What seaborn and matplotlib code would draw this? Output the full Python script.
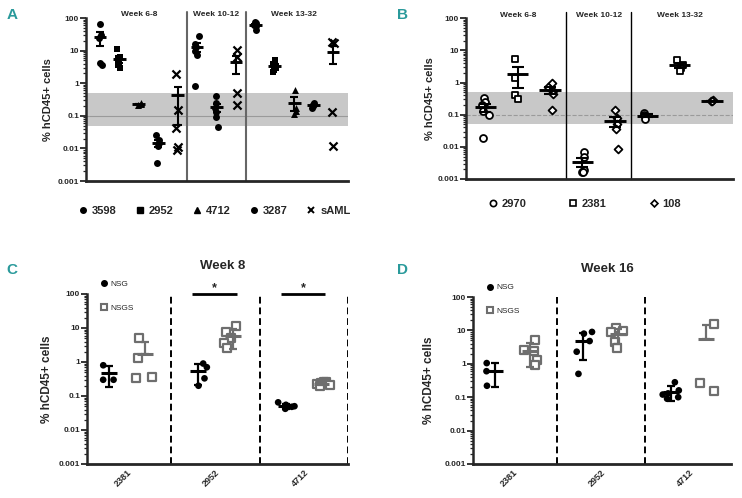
import warnings
import numpy as np
import pandas as pd
import matplotlib.pyplot as plt
import matplotlib.ticker as mticker
import matplotlib.transforms as mtransforms
from matplotlib.lines import Line2D
import seaborn as sns

warnings.filterwarnings('ignore')
np.random.seed(3)

# Panel A: engraftment per sample and time window (mean +/- SEM)
a_weeks = ['Week 6-8'] * 5 + ['Week 10-12'] * 3 + ['Week 13-32'] * 5
a_samples = ['3598', '2952', '4712', '3287', 'sAML',
             '3598', '3287', 'sAML',
             '3598', '2952', '4712', '3287', 'sAML']
a_values = [
    [64, 30, 25, 4.1, 3.6],
    [11.5, 6.5, 5, 4, 3.5, 3],
    [0.22, 0.24, 0.23],
    [0.025, 0.018, 0.015, 0.012, 0.0035],
    [1.9, 0.15, 0.042, 0.011, 0.009],
    [29, 16, 13, 10, 7.5, 0.8],
    [0.4, 0.25, 0.18, 0.13, 0.09, 0.046],
    [10.5, 6.5, 0.5, 0.22],
    [75, 68, 62, 58, 42],
    [5, 4, 3.5, 3, 2.5, 2.2],
    [0.6, 0.17, 0.14, 0.11],
    [0.24, 0.22, 0.21, 0.2, 0.18],
    [19, 17, 0.13, 0.012],
]
a_legend = ['3598', '2952', '4712', '3287', 'sAML']
a_markers = {'3598': 'o', '2952': 's', '4712': '^', '3287': 'o', 'sAML': 'x'}

# Panel B
b_weeks = ['Week 6-8'] * 3 + ['Week 10-12'] * 2 + ['Week 13-32'] * 3
b_samples = ['2970', '2381', '108', '2970', '108', '2970', '2381', '108']
b_values = [
    [0.32, 0.25, 0.2, 0.13, 0.1, 0.019],
    [5.3, 1.4, 0.4, 0.3],
    [0.95, 0.75, 0.55, 0.45, 0.14],
    [0.0068, 0.0048, 0.0019, 0.0017, 0.0016],
    [0.14, 0.08, 0.05, 0.035, 0.0085],
    [0.11, 0.095, 0.075],
    [5, 3.5, 2.8, 2.3],
    [0.28, 0.27, 0.26],
]
b_legend = ['2970', '2381', '108']
b_markers = {'2970': 'o', '2381': 's', '108': 'D'}

# Panels C / D: NSG vs NSGS (mean +/- SD)
strains = ['NSG', 'NSGS']
cd_samples = ['2381', '2952', '4712']
c_nsg = [[0.8, 0.3, 0.3], [0.9, 0.7, 0.33, 0.2],
         [0.065, 0.055, 0.05, 0.048, 0.045, 0.042]]
c_nsgs = [[5, 1.3, 0.33, 0.37], [11.5, 7.5, 5, 3.5, 2.5],
          [0.26, 0.25, 0.24, 0.23, 0.22, 0.21, 0.2]]
d_nsg = [[1.05, 0.6, 0.22], [9, 8, 4.8, 2.3, 0.5],
         [0.28, 0.16, 0.13, 0.12, 0.1, 0.09]]
d_nsgs = [[5.2, 2.6, 2.4, 1.3, 0.9], [12, 9.5, 9, 4.5, 3], [16, 0.27, 0.15]]
c_signif = ['2952', '4712']
d_signif = []

y_ticks = [0.001, 0.01, 0.1, 1, 10, 100]
y_tick_labels = ['0.001', '0.01', '0.1', '1', '10', '100']
band = (0.05, 0.5)
teal = '#2a9a9b'
gray = '#6e6e6e'

sns.set_style('ticks')
plt.rcParams['font.family'] = ['Liberation Sans', 'DejaVu Sans']


def long_df(weeks, samples, values):
    rows = []
    for w, s, vals in zip(weeks, samples, values):
        for v in vals:
            rows.append({'week': w, 'sample': s, 'group': w + ' / ' + s, 'value': v})
    return pd.DataFrame(rows)


def mean_err(ax, x, m, e, half_w, cap, color, lw):
    # Prism style: wide mean line, capped error bar (lower part dropped if <= 0)
    lower = e if m - e > 0 else 0
    ax.errorbar(x, m, yerr=[[lower], [e]], fmt='none', ecolor=color,
                elinewidth=lw, capsize=cap, capthick=lw, zorder=4)
    ax.hlines(m, x - half_w, x + half_w, color=color, lw=lw + 0.6, zorder=4)


def log_axis(ax, ylabel_x, label_size=8):
    ax.set_yscale('log')
    ax.set_ylim(0.001, 100)
    ax.yaxis.set_major_locator(mticker.FixedLocator(y_ticks))
    ax.yaxis.set_major_formatter(mticker.FixedFormatter(y_tick_labels))
    ax.yaxis.set_minor_locator(mticker.LogLocator(base=10, subs=np.arange(2, 10)))
    ax.yaxis.set_minor_formatter(mticker.NullFormatter())
    ax.tick_params(axis='y', which='major', length=4, width=1.3, labelsize=6, pad=1)
    ax.tick_params(axis='y', which='minor', length=2.5, width=0.9)
    for lab in ax.get_yticklabels():
        lab.set_fontweight('bold')
    ax.spines[['top', 'right']].set_visible(False)
    ax.spines['left'].set_linewidth(1.8)
    ax.spines['bottom'].set_linewidth(2)
    ax.set_ylabel('% hCD45+ cells', fontsize=label_size, fontweight='bold')
    ax.yaxis.set_label_coords(ylabel_x, 0.5)


def week_panel(ax, weeks, samples, values, markers, filled, size,
               half_w, cap, div_color, div_lw, ref_ls):
    df = long_df(weeks, samples, values)
    order = [w + ' / ' + s for w, s in zip(weeks, samples)]
    ax.axhspan(*band, color='#c8c8c8', lw=0, zorder=0)
    ax.axhline(0.1, color='#9a9a9a', lw=0.8, ls=ref_ls, zorder=1)
    for s in dict.fromkeys(samples):
        sub = df[df['sample'] == s]
        kw = dict(data=sub, x='group', y='value', order=order, ax=ax,
                  marker=markers[s], jitter=0.12, zorder=3)
        if filled:
            if markers[s] == 'x':
                kw.update(color='black', size=size + 0.8, linewidth=1.6, edgecolor='black')
            else:
                kw.update(color='black', size=size, linewidth=0)
        else:
            msize = size - 1 if markers[s] == 'D' else size
            kw.update(color='white', size=msize, linewidth=1.3, edgecolor='black')
        sns.stripplot(**kw)
    stats = df.groupby('group', sort=False)['value'].agg(['mean', 'sem']).reindex(order)
    for i, g in enumerate(order):
        mean_err(ax, i, stats.loc[g, 'mean'], stats.loc[g, 'sem'], half_w, cap, 'black', 1.5)

    week_order = list(dict.fromkeys(weeks))
    counts = np.array([weeks.count(w) for w in week_order])
    edges = np.cumsum(counts)
    for e in edges[:-1]:
        ax.axvline(e - 0.5, ymin=0, ymax=1.04, color=div_color, lw=div_lw, clip_on=False)
    trans = mtransforms.blended_transform_factory(ax.transData, ax.transAxes)
    for w, st, c in zip(week_order, edges - counts, counts):
        ax.text(st + (c - 1) / 2, 1.02, w, transform=trans, ha='center', va='center',
                fontsize=6, fontweight='bold')
    ax.set_xlabel('')
    ax.set_xticks([])
    return len(order)


def strain_panel(ax, title, nsg, nsgs, signif):
    rows = []
    for strain, vals in zip(strains, [nsg, nsgs]):
        for s, vv in zip(cd_samples, vals):
            for v in vv:
                rows.append({'sample': s, 'strain': strain, 'value': v})
    df = pd.DataFrame(rows)
    pal = {'NSG': 'black', 'NSGS': gray}
    styles = {'NSG': dict(marker='o', size=4.8, linewidth=0, edgecolor='black'),
              'NSGS': dict(marker='s', size=5.2, linewidth=1.6, edgecolor=gray)}
    for strain in strains:
        n0 = len(ax.collections)
        sns.stripplot(data=df[df['strain'] == strain], x='sample', y='value',
                      hue='strain', hue_order=strains, order=cd_samples, dodge=True,
                      palette=pal, jitter=0.22, legend=False, ax=ax, zorder=3,
                      **styles[strain])
        if strain == 'NSGS':
            for coll in ax.collections[n0:]:
                coll.set_facecolor('white')
    stats = df.groupby(['sample', 'strain'])['value'].agg(['mean', 'std'])
    offsets = dict(zip(strains, [-0.2, 0.2]))
    for i, s in enumerate(cd_samples):
        for strain in strains:
            m, sd = stats.loc[(s, strain), 'mean'], stats.loc[(s, strain), 'std']
            mean_err(ax, i + offsets[strain], m, sd, 0.09, 3.2, pal[strain], 1.6)
    for i in range(len(cd_samples)):
        ax.axvline(i + 0.5, color='black', lw=1.4, ls=(0, (3.5, 2)), zorder=2)
    for s in signif:
        i = cd_samples.index(s)
        ax.hlines(100, i - 0.26, i + 0.24, color='black', lw=2, clip_on=False)
        ax.text(i - 0.01, 100, '*', ha='center', va='bottom', fontsize=9,
                fontweight='bold', clip_on=False)
    ax.set_title(title, fontsize=9.5, fontweight='bold', pad=18, x=0.52)
    ax.set_xlabel('')
    ax.set_xticks(range(len(cd_samples)))
    ax.set_xticklabels(cd_samples, rotation=45, ha='right', rotation_mode='anchor',
                       fontsize=6.5, fontweight='bold')
    ax.tick_params(axis='x', length=0, pad=3)
    handles = [Line2D([], [], marker='o', ls='none', color='black', ms=4),
               Line2D([], [], marker='s', ls='none', mfc='white', mec=gray, mew=1.5, ms=5)]
    ax.legend(handles, strains, loc='upper left', bbox_to_anchor=(0.035, 1.1),
              frameon=False, labelspacing=1.9, fontsize=6, handletextpad=0.3,
              handlelength=1.0, borderaxespad=0)


fig = plt.figure(figsize=(7.42, 4.98), dpi=100)
ax_a = fig.add_axes([0.1159, 0.6365, 0.3531, 0.3273])
ax_b = fig.add_axes([0.628, 0.6406, 0.3598, 0.3227])
ax_c = fig.add_axes([0.1173, 0.0683, 0.3518, 0.3414])
ax_d = fig.add_axes([0.6375, 0.0683, 0.3477, 0.3353])

n_a = week_panel(ax_a, a_weeks, a_samples, a_values, a_markers, True, 5,
                 0.33, 3, '#666666', 1.5, '-')
ax_a.set_xlim(-0.72, n_a - 0.23)
log_axis(ax_a, -0.126)

n_b = week_panel(ax_b, b_weeks, b_samples, b_values, b_markers, False, 5,
                 0.33, 4.3, 'black', 1.0, '--')
ax_b.set_xlim(-0.6, n_b - 0.35)
log_axis(ax_b, -0.116)

strain_panel(ax_c, 'Week 8', c_nsg, c_nsgs, c_signif)
ax_c.set_xlim(-0.45, 2.5)
log_axis(ax_c, -0.13, 8.5)

strain_panel(ax_d, 'Week 16', d_nsg, d_nsgs, d_signif)
ax_d.set_xlim(-0.45, 2.48)
log_axis(ax_d, -0.147, 8.5)

# bottom legends for A and B
a_handles = []
for s in a_legend:
    if a_markers[s] == 'x':
        a_handles.append(Line2D([], [], marker='x', ls='none', color='black', ms=4.5, mew=1.4))
    else:
        a_handles.append(Line2D([], [], marker=a_markers[s], ls='none', color='black', ms=4))
fig.legend(a_handles, a_legend, loc='center', bbox_to_anchor=(0.289, 0.576), ncol=5,
           frameon=False, handlelength=0.8, handletextpad=0.4, columnspacing=1.7,
           prop={'weight': 'bold', 'size': 8})

b_handles = [Line2D([], [], marker=b_markers[s], ls='none', mfc='white', mec='black',
                    mew=1.2, ms=4.5 if b_markers[s] != 'D' else 3.5) for s in b_legend]
fig.legend(b_handles, b_legend, loc='center', bbox_to_anchor=(0.788, 0.59), ncol=3,
           frameon=False, handlelength=0.8, handletextpad=0.4, columnspacing=3.8,
           prop={'weight': 'bold', 'size': 8})

for letter, (x, y) in zip('ABCD', [(12, 15), (403, 15), (12, 270), (403, 270)]):
    fig.text(x / 742, 1 - y / 498, letter, color=teal, fontsize=11, fontweight='bold',
             ha='center', va='center',
             family=['Liberation Sans Narrow', 'Liberation Sans', 'DejaVu Sans'])

fig.savefig('out.png', dpi=100)
